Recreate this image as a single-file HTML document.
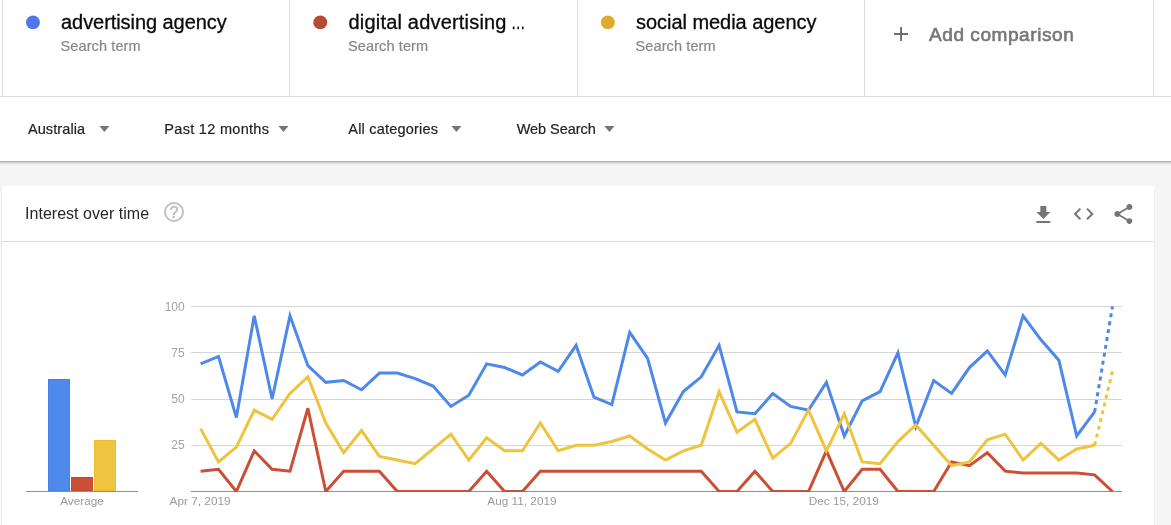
<!DOCTYPE html>
<html lang="en">
<head>
<meta charset="utf-8">
<title>Google Trends - Compare</title>
<style>
*{box-sizing:border-box}
html,body{margin:0;padding:0}
body{width:1171px;height:525px;overflow:hidden;background:#f5f5f5;font-family:"Liberation Sans",sans-serif;position:relative;color:#212121}
.top{position:absolute;left:0;top:0;width:1171px;height:161px;background:#fff}
.shadow{position:absolute;left:0;top:161px;width:1171px;height:5px;background:linear-gradient(to bottom,#b6b6b6 0,#b6b6b6 1px,#cdcdcd 1px,#cdcdcd 2px,#e3e3e3 2px,#e3e3e3 3px,#eeeeee 3px,#eeeeee 4px,#f3f3f3 4px,#f3f3f3 5px)}
.hl{position:absolute;left:0;top:96px;width:1171px;height:1px;background:#dcdcdc}
.vl{position:absolute;top:0;width:1px;height:96px;background:#dcdcdc}
.term{position:absolute;top:10px;font-size:20px;line-height:24px;color:#0a0a0a;white-space:nowrap;-webkit-text-stroke:0.3px #0a0a0a}
.sub{position:absolute;top:37px;font-size:14.5px;line-height:18px;color:#878787;white-space:nowrap;-webkit-text-stroke:0.2px #878787;letter-spacing:0.1px}
.add{position:absolute;left:929px;letter-spacing:0.57px;top:22.2px;font-size:19px;line-height:26px;color:#767676;white-space:nowrap;-webkit-text-stroke:0.6px #767676}
.flt{position:absolute;top:119px;font-size:14.5px;line-height:20px;color:#222;white-space:nowrap;-webkit-text-stroke:0.2px #222}
.card{position:absolute;left:2px;top:186px;width:1152px;height:345px;background:#fff;border-radius:2px}
.cs{position:absolute;top:188px;width:1px;height:340px;background:#eee}
.cardline{position:absolute;left:2px;top:241px;width:1152px;height:1px;background:#dcdcdc}
.title{position:absolute;left:25px;top:202.7px;font-size:16px;letter-spacing:0.03px;line-height:22px;color:#262626;white-space:nowrap}
.help{position:absolute;left:164px;top:202px;width:20px;height:20px;border:2px solid #c1c1c1;border-radius:50%;color:#b9b9b9;font-size:16px;line-height:18px;text-align:center;-webkit-text-stroke:0.55px #bdbdbd}
.ico{position:absolute;width:24px;height:24px;fill:#757575}
.chart{position:absolute;left:0;top:0}
#root{position:absolute;left:0;top:0;width:1171px;height:525px;overflow:hidden;transform:translateZ(0);will-change:transform}
</style>
</head>
<body>
<div id="root">
<div class="top"></div>
<div class="shadow"></div>
<div class="hl"></div>
<div class="vl" style="left:2px"></div>
<div class="vl" style="left:289px"></div>
<div class="vl" style="left:577px"></div>
<div class="vl" style="left:864px"></div>
<div class="vl" style="left:1153px"></div>

<div class="term" style="left:61px;letter-spacing:-0.06px">advertising agency</div>
<div class="sub" style="left:60.6px">Search term</div>

<div class="term" style="left:348.5px;letter-spacing:0.19px">digital advertising<span style="display:inline-block;transform:scaleX(0.72);transform-origin:0 50%;margin-left:3.9px">&#8230;</span></div>
<div class="sub" style="left:348.1px">Search term</div>

<div class="term" style="left:636px;letter-spacing:-0.04px">social media agency</div>
<div class="sub" style="left:635.6px">Search term</div>

<div class="add">Add comparison</div>

<div class="flt" style="left:27.9px;letter-spacing:0.1px">Australia</div>
<div class="flt" style="left:164.3px;letter-spacing:0.3px">Past 12 months</div>
<div class="flt" style="left:348.3px;letter-spacing:0.2px">All categories</div>
<div class="flt" style="left:516.7px;letter-spacing:-0.05px">Web Search</div>

<div class="cs" style="left:1px"></div><div class="cs" style="left:1154px"></div>
<div class="card"></div>
<div class="cardline"></div>
<div class="title">Interest over time</div>
<div class="help">?</div>


<svg class="chart" width="1171" height="525" viewBox="0 0 1171 525">
<defs><clipPath id="cp"><rect x="191" y="300" width="931" height="192"/></clipPath></defs>
<rect x="191" y="306" width="931" height="1" fill="#d6d6d6"/>
<rect x="191" y="352" width="931" height="1" fill="#d6d6d6"/>
<rect x="191" y="399" width="931" height="1" fill="#d6d6d6"/>
<rect x="191" y="445" width="931" height="1" fill="#d6d6d6"/>
<rect x="191" y="491" width="931" height="1" fill="#8f8f8f"/>
<rect x="26" y="491" width="112" height="1" fill="#8f8f8f"/>
<rect x="48.5" y="379.5" width="21" height="111" fill="#4f8aeb" stroke="#4582e8" stroke-width="1"/>
<rect x="71.5" y="477.5" width="21" height="13" fill="#cc4f38" stroke="#c74732" stroke-width="1"/>
<rect x="94.5" y="440.5" width="21" height="50" fill="#efc43e" stroke="#ecbd30" stroke-width="1"/>
<g clip-path="url(#cp)" fill="none" stroke-width="3" stroke-linejoin="miter" stroke-linecap="butt">
<polyline stroke="#4d88ea" points="200.60,363.85 218.48,356.45 236.36,417.50 254.24,315.75 272.12,399.00 290.00,315.75 307.88,365.70 325.76,382.35 343.64,380.50 361.52,389.75 379.40,373.10 397.28,373.10 415.16,378.65 433.04,386.05 450.92,406.40 468.80,395.30 486.68,363.85 504.56,367.55 522.44,374.95 540.32,362.00 558.20,371.25 576.08,345.35 593.96,397.15 611.84,404.55 629.72,332.40 647.60,358.30 665.48,423.05 683.36,391.60 701.24,376.80 719.12,345.35 737.00,411.95 754.88,413.80 772.76,393.45 790.64,406.40 808.52,410.10 826.40,382.35 844.28,436.00 862.16,400.85 880.04,391.60 897.92,352.75 915.80,426.75 933.68,380.50 951.56,393.45 969.44,367.55 987.32,350.90 1005.20,374.95 1023.08,315.75 1040.96,339.80 1058.84,360.15 1076.72,436.00 1094.60,411.95"/>
<polyline stroke="#4d88ea" stroke-dasharray="4,4" points="1094.60,411.95 1112.48,306.50"/>
<polyline stroke="#cb4f37" points="200.60,471.15 218.48,469.30 236.36,491.50 254.24,450.80 272.12,469.30 290.00,471.15 307.88,408.25 325.76,491.50 343.64,471.15 361.52,471.15 379.40,471.15 397.28,491.50 415.16,491.50 433.04,491.50 450.92,491.50 468.80,491.50 486.68,471.15 504.56,491.50 522.44,491.50 540.32,471.15 558.20,471.15 576.08,471.15 593.96,471.15 611.84,471.15 629.72,471.15 647.60,471.15 665.48,471.15 683.36,471.15 701.24,471.15 719.12,491.50 737.00,491.50 754.88,471.15 772.76,491.50 790.64,491.50 808.52,491.50 826.40,450.80 844.28,491.50 862.16,469.30 880.04,469.30 897.92,491.50 915.80,491.50 933.68,491.50 951.56,461.90 969.44,465.60 987.32,452.65 1005.20,471.15 1023.08,473.00 1040.96,473.00 1058.84,473.00 1076.72,473.00 1094.60,474.85 1112.48,491.50"/>
<polyline stroke="#efc33d" points="200.60,428.60 218.48,461.90 236.36,447.10 254.24,410.10 272.12,419.35 290.00,393.45 307.88,376.80 325.76,423.05 343.64,452.65 361.52,430.45 379.40,456.35 397.28,460.05 415.16,463.75 433.04,448.95 450.92,434.15 468.80,460.05 486.68,437.85 504.56,450.80 522.44,450.80 540.32,423.05 558.20,450.80 576.08,445.25 593.96,445.25 611.84,441.55 629.72,436.00 647.60,448.95 665.48,460.05 683.36,450.80 701.24,445.25 719.12,391.60 737.00,432.30 754.88,419.35 772.76,458.20 790.64,443.40 808.52,410.10 826.40,450.80 844.28,413.80 862.16,461.90 880.04,463.75 897.92,441.55 915.80,424.90 933.68,445.25 951.56,465.60 969.44,461.90 987.32,439.70 1005.20,434.15 1023.08,460.05 1040.96,443.40 1058.84,460.05 1076.72,448.95 1094.60,445.25"/>
<polyline stroke="#efc33d" stroke-dasharray="4,4" points="1094.60,445.25 1112.48,371.25"/>
</g>
<circle cx="32.95" cy="22.4" r="6.95" fill="#5077ea"/>
<circle cx="320.25" cy="22.4" r="6.95" fill="#b64a33"/>
<circle cx="607.85" cy="22.4" r="6.95" fill="#e0aa2e"/>
<g transform="translate(1031.35,203.0)" fill="#757575"><path d="M19 9h-4V3H9v6H5l7 7 7-7zM5 18v2h14v-2H5z"/></g>
<g transform="translate(1071.7,201.95)" fill="#757575"><path d="M9.4 16.6L4.8 12l4.6-4.6L8 6l-6 6 6 6 1.4-1.4zm5.2 0l4.6-4.6-4.6-4.6L16 6l6 6-6 6-1.4-1.4z"/></g>
<g transform="translate(1111.4,202.05)" fill="#757575"><path d="M18 16.08c-.76 0-1.44.3-1.96.77L8.910 12.700c.05-.23.09-.46.09-.7s-.04-.47-.09-.7l7.050-4.110c.54.5 1.250.81 2.040.81 1.660 0 3-1.340 3-3s-1.340-3-3-3-3 1.340-3 3c0 .24.04.47.09.7L8.040 9.810C7.500 9.310 6.790 9 6 9c-1.660 0-3 1.340-3 3s1.340 3 3 3c.79 0 1.500-.31 2.040-.81l7.120 4.160c-.05.21-.08.43-.08.650 0 1.610 1.310 2.920 2.920 2.920 1.610 0 2.920-1.310 2.920-2.920s-1.310-2.920-2.920-2.920z"/></g>
<polygon points="99.40,125.9 109.40,125.9 104.40,132" fill="#757575"/>
<polygon points="278.43,125.9 288.43,125.9 283.43,132" fill="#757575"/>
<polygon points="451.43,125.9 461.43,125.9 456.43,132" fill="#757575"/>
<polygon points="604.43,125.9 614.43,125.9 609.43,132" fill="#757575"/>
<path d="M894 34.05h14.1M901.05 27v14.1" stroke="#6e6e6e" stroke-width="1.9" fill="none"/>
<g font-family="'Liberation Sans', sans-serif" font-size="11.8" fill="#a3a3a3">
<text x="184.7" y="310.50" text-anchor="end" font-size="12">100</text>
<text x="184.7" y="356.75" text-anchor="end" font-size="12">75</text>
<text x="184.7" y="403.00" text-anchor="end" font-size="12">50</text>
<text x="184.7" y="449.25" text-anchor="end" font-size="12">25</text>
<text x="200.10" y="504.9" text-anchor="middle" fill="#9a9a9a">Apr 7, 2019</text>
<text x="521.94" y="504.9" text-anchor="middle" fill="#9a9a9a">Aug 11, 2019</text>
<text x="843.78" y="504.9" text-anchor="middle" fill="#9a9a9a">Dec 15, 2019</text>
<text x="82" y="504.9" text-anchor="middle" fill="#9a9a9a">Average</text>
</g>
</svg>
</div>
</body>
</html>
